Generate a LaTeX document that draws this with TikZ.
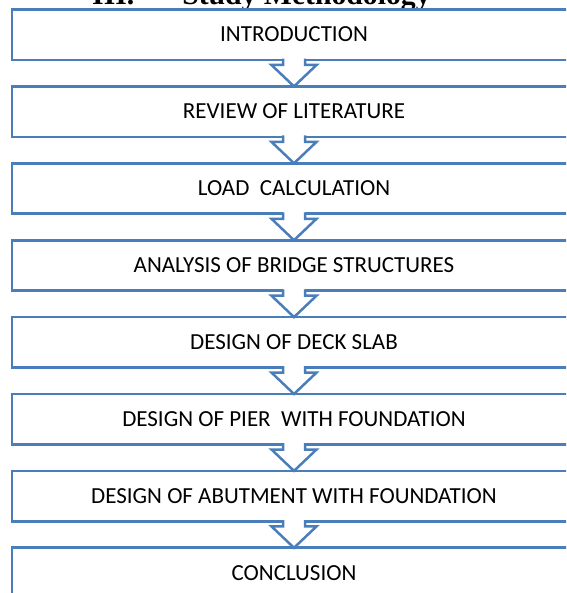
\documentclass[tikz,border=0pt]{standalone}
\usepackage{fontspec}
\setmainfont{Carlito}
\newfontfamily\titlefont{Liberation Serif}
\usetikzlibrary{calc}
\definecolor{boxblue}{RGB}{74,126,187}
\tikzset{
  stepbox/.style={draw=boxblue, line width=2.7pt, fill=white, rectangle,
    minimum width=564pt, minimum height=50.5pt, inner sep=0pt, outer sep=0pt,
    text height=14.5pt, text depth=0pt,
    font=\fontsize{23}{25}\selectfont},
  blockarr/.style={draw=boxblue, line width=2.5pt, line join=miter},
}
\begin{document}
\begin{tikzpicture}[x=1pt,y=-1pt]
\useasboundingbox (0,0) rectangle (566,593);
\clip (0,0) rectangle (566,593);
\node[anchor=base west, inner sep=0pt, font=\titlefont\bfseries\fontsize{29.7}{30}\selectfont] (title) at (92,4.5) {III.\hspace{48pt}Study Methodology};
\node[stepbox] (b1) at (294,34.75) {INTRODUCTION};
\node[stepbox] (b2) at (294,111.65) {REVIEW OF LITERATURE};
\node[stepbox] (b3) at (294,188.55) {LOAD\ \ CALCULATION};
\node[stepbox] (b4) at (294,265.45) {ANALYSIS OF BRIDGE STRUCTURES};
\node[stepbox] (b5) at (294,342.35) {DESIGN OF DECK SLAB};
\node[stepbox] (b6) at (294,419.25) {DESIGN OF PIER\ \ WITH FOUNDATION};
\node[stepbox] (b7) at (294,496.15) {DESIGN OF ABUTMENT WITH FOUNDATION};
\node[stepbox] (b8) at (294,573.05) {CONCLUSION};
\foreach \a/\b in {b1/b2,b2/b3,b3/b4,b4/b5,b5/b6,b6/b7,b7/b8}{
  \fill[white] ($(\a.south)+(-11pt,1.6pt)$) -- ($(\a.south)+(-11pt,-5pt)$) -- ($(\a.south)+(-22.5pt,-5pt)$) -- (\b.north) -- ($(\a.south)+(22.5pt,-5pt)$) -- ($(\a.south)+(11pt,-5pt)$) -- ($(\a.south)+(11pt,1.6pt)$) -- cycle;
  \draw[blockarr] ($(\a.south)+(-11pt,1.4pt)$) -- ($(\a.south)+(-11pt,-5pt)$) -- ($(\a.south)+(-22.5pt,-5pt)$) -- (\b.north) -- ($(\a.south)+(22.5pt,-5pt)$) -- ($(\a.south)+(11pt,-5pt)$) -- ($(\a.south)+(11pt,1.4pt)$);
}
\end{tikzpicture}
\end{document}
